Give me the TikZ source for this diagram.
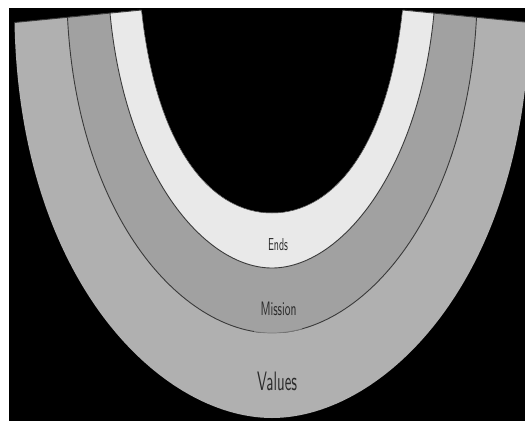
\documentclass[tikz,border=0pt]{standalone}
\usepackage{graphicx}
\definecolor{valuesgray}{HTML}{B0B0B0}
\definecolor{missiongray}{HTML}{A1A1A1}
\definecolor{endsgray}{HTML}{E9E9E9}
\definecolor{linegray}{HTML}{3A3A3A}
\definecolor{fadedgray}{HTML}{7A7A7A}
\definecolor{labelgray}{HTML}{2A2A2A}
\begin{document}
\begin{tikzpicture}[x=1pt,y=-1pt,
  divider/.style={draw=linegray, line width=0.9pt},
  lbl/.style={inner sep=0pt, anchor=base, text=labelgray, font=\sffamily}]
\useasboundingbox (0,0) rectangle (525,421);
\fill[white] (0,0) rectangle (525,421);
\fill[black] (9,8) rectangle (525,421);
\begin{scope}
\clip (9,8) rectangle (525,421);
% top end points of each boundary
\coordinate (OL) at (14.5,22.5);  \coordinate (OR) at (529.5,22.5);
\coordinate (VL) at (67.5,17.2);  \coordinate (VR) at (476.5,17.2);
\coordinate (ML) at (110,13.1);   \coordinate (MR) at (434,13.1);
\coordinate (IL) at (141.5,10);   \coordinate (IR) at (402.5,10);
% Values band
\fill[valuesgray] (OL) .. controls (19.5,282.5) and (162,418) .. (272,418)
  .. controls (382,418) and (524.5,282.5) .. (OR) -- (IR)
  .. controls (387.5,150) and (332,213) .. (272,213)
  .. controls (212,213) and (156.5,150) .. (IL) -- cycle;
% Mission band
\fill[missiongray] (VL) .. controls (77.5,217) and (182,333) .. (272,333)
  .. controls (362,333) and (466.5,217) .. (VR) -- (IR)
  .. controls (387.5,150) and (332,213) .. (272,213)
  .. controls (212,213) and (156.5,150) .. (IL) -- cycle;
% Ends band
\fill[endsgray] (ML) .. controls (125,173) and (204,268) .. (272,268)
  .. controls (340,268) and (419,173) .. (MR) -- (IR)
  .. controls (387.5,150) and (332,213) .. (272,213)
  .. controls (212,213) and (156.5,150) .. (IL) -- cycle;
% dividing lines
\draw[divider] (VL) .. controls (77.5,217) and (182,333) .. (272,333)
  .. controls (362,333) and (466.5,217) .. (VR);
\draw[divider] (ML) .. controls (125,173) and (204,268) .. (272,268)
  .. controls (340,268) and (419,173) .. (MR);
\draw[divider, line width=0.5pt] (IL) .. controls (156.5,150) and (212,213) .. (272,213)
  .. controls (332,213) and (387.5,150) .. (IR);
\draw[divider] (OL) -- (IL);
\draw[divider] (IR) -- (OR);
% faded stretch of the Values/Mission line at the bottom
\begin{scope}
\clip (254,322) rectangle (302,340);
\fill[missiongray] (VL) .. controls (77.5,217) and (182,333) .. (272,333)
  .. controls (362,333) and (466.5,217) .. (VR) -- cycle;
\fill[valuesgray] (254,333.4) rectangle (302,340);
\draw[draw=fadedgray, line width=0.7pt] (VL) .. controls (77.5,217) and (182,333) .. (272,333)
  .. controls (362,333) and (466.5,217) .. (VR);
\end{scope}
\end{scope}
% labels
\node[lbl] (ends) at (278,250.7) {\resizebox{20pt}{12pt}{Ends}};
\node[lbl] (mission) at (278.5,315) {\resizebox{36pt}{13.5pt}{Mission}};
\node[lbl] (values) at (277,390) {\resizebox{40pt}{18.5pt}{Values}};
\end{tikzpicture}
\end{document}
